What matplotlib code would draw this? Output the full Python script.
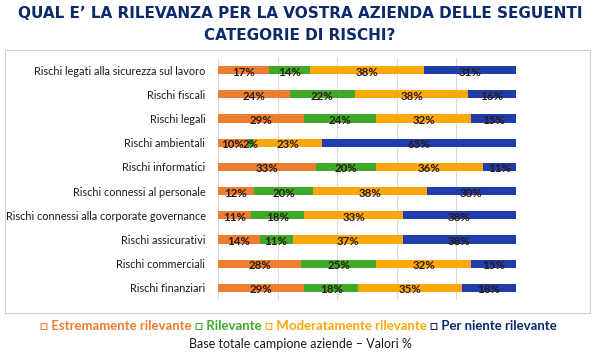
# Rilevanza categorie di rischi - barre orizzontali impilate al 100%
import matplotlib.pyplot as plt
from matplotlib.patches import Rectangle
import numpy as np

categorie = ['Rischi legati alla sicurezza sul lavoro', 'Rischi fiscali', 'Rischi legali',
             'Rischi ambientali', 'Rischi informatici', 'Rischi connessi al personale',
             'Rischi connessi alla corporate governance', 'Rischi assicurativi',
             'Rischi commerciali', 'Rischi finanziari']
estremamente = [17, 24, 29, 10, 33, 12, 11, 14, 28, 29]
rilevante = [14, 22, 24, 2, 20, 20, 18, 11, 25, 18]
moderatamente = [38, 38, 32, 23, 36, 38, 33, 37, 32, 35]
per_niente = [31, 16, 15, 65, 11, 30, 38, 38, 15, 18]

serie = [('Estremamente rilevante', estremamente, '#ED7D31'),
         ('Rilevante', rilevante, '#3FAA29'),
         ('Moderatamente rilevante', moderatamente, '#FCA80A'),
         ('Per niente rilevante', per_niente, '#1F3DAA')]

fig = plt.figure(figsize=(6, 3.6), dpi=100)
ax = fig.add_axes([218/600, 1 - 300/360, 298/600, 242/360])

# riquadro grigio attorno al grafico
fig.patches.append(Rectangle((5/600, 1 - 313/360), 585/600, 263/360, transform=fig.transFigure,
                             fill=False, edgecolor='#d0d0d0', lw=0.8))

y = np.arange(len(categorie))
left = np.zeros(len(categorie))
for nome, vals, col in serie:
    vals = np.array(vals)
    ax.barh(y, vals, left=left, height=0.34, color=col, zorder=3)
    for yi, l, v in zip(y, left, vals):
        ax.text(l + v / 2, yi + 0.08, f'{v}%', ha='center', va='center', fontsize=8.3,
                fontweight='bold', color='#2b1a10', family='Lato', zorder=4)
    left += vals

ax.set_xlim(0, 100)
ax.set_ylim(len(categorie) - 0.5, -0.5)
ax.set_xticks([0, 20, 40, 60, 80, 100])
ax.xaxis.grid(True, color='#d9d9d9', lw=0.8, zorder=0)
ax.set_yticks(y)
ax.set_yticklabels(categorie, fontsize=7.8, family='Lato', color='#1a1a1a')
ax.tick_params(axis='both', length=0)
ax.tick_params(axis='y', pad=9)
ax.set_xticklabels([])
for s in ax.spines.values():
    s.set_visible(False)

# titolo
fig.text(0.5, 1 - 14/360, 'QUAL E\u2019 LA RILEVANZA PER LA VOSTRA AZIENDA DELLE SEGUENTI',
         ha='center', va='center', fontsize=11, fontweight='bold', color='#0B2A6B')
fig.text(0.5, 1 - 36/360, 'CATEGORIE DI RISCHI?',
         ha='center', va='center', fontsize=11, fontweight='bold', color='#0B2A6B')

# legenda testuale colorata
colori_leg = ['#ED7D31', '#3FAA29', '#FCA80A', '#0B2A6B']
pezzi = [('\u25a1 ' + nome + ' ', c) for (nome, _, _), c in zip(serie, colori_leg)]
renderer = fig.canvas.get_renderer()
testi = []
for t, c in pezzi:
    testi.append(fig.text(0, 1 - 326/360, t, ha='left', va='center', fontsize=9.5,
                          fontweight='bold', color=c, family='Lato'))
larghezze = [tt.get_window_extent(renderer).width for tt in testi]
x0 = (600 - sum(larghezze)) / 2
for tt, w in zip(testi, larghezze):
    tt.set_x(x0 / 600)
    x0 += w

fig.text(0.5, 1 - 344/360, 'Base totale campione aziende \u2013 Valori %', ha='center', va='center',
         fontsize=9, color='#1a1a1a', family='Lato')

plt.savefig('out.png', dpi=100)
